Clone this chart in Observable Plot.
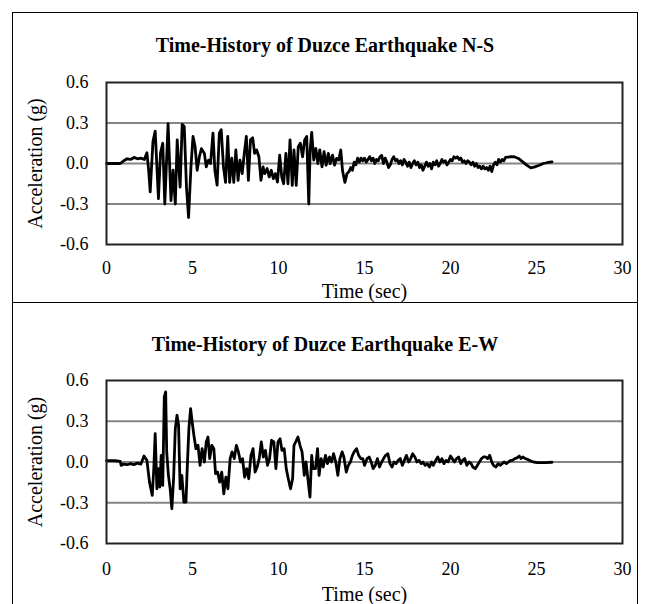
<!DOCTYPE html>
<html>
<head>
<meta charset="utf-8">
<script src="https://cdn.jsdelivr.net/npm/d3@7"></script>
<script src="https://cdn.jsdelivr.net/npm/@observablehq/plot@0.6"></script>
<style>
  body { margin: 0; background: #fff; width: 649px; height: 604px; overflow: hidden; position: relative; font-family: "Liberation Serif", "Times New Roman", serif; }
  .panel { position: absolute; left: 12px; width: 624px; border: 1px solid #000; background: #fff; }
  .title { position: absolute; left: 0; width: 100%; text-align: center; font-weight: bold; font-size: 20px; color: #000; }
  .chart { position: absolute; left: 0; top: 0; }
  g[aria-label="x-axis label"] text, g[aria-label="y-axis label"] text { font-size: 20px; }
</style>
</head>
<body>
<div class="panel" id="p1" style="top:12px;height:290px;">
  <div class="title" style="top:21px;">Time-History of Duzce Earthquake N-S</div>
  <div class="chart" id="c1"></div>
</div>
<div class="panel" id="p2" style="top:302px;height:310px;">
  <div class="title" style="top:30px;">Time-History of Duzce Earthquake E-W</div>
  <div class="chart" id="c2"></div>
</div>
<script>
const xTicks = [0, 5, 10, 15, 20, 25, 30];
const yTicks = [-0.6, -0.3, 0.0, 0.3, 0.6];
const gridLevels = [-0.3, 0.0, 0.3];

const nsTime = [0, 0.8, 1.0, 1.2, 1.4, 1.6, 1.8, 2.0, 2.2, 2.35, 2.45, 2.54, 2.7, 2.83, 3.02, 3.14, 3.27, 3.39, 3.58, 3.75, 3.87, 4.0, 4.11, 4.28, 4.4, 4.52, 4.65, 4.77, 4.91, 5.03, 5.15, 5.27, 5.4, 5.52, 5.69, 5.8, 5.93, 6.05, 6.19, 6.3, 6.43, 6.56, 6.67, 6.8, 6.92, 7.05, 7.16, 7.28, 7.4, 7.52, 7.65, 7.76, 7.89, 8.0, 8.13, 8.25, 8.37, 8.5, 8.61, 8.73, 8.86, 8.98, 9.1, 9.2, 9.34, 9.46, 9.58, 9.7, 9.82, 9.94, 10.07, 10.19, 10.3, 10.43, 10.55, 10.67, 10.8, 10.9, 11.03, 11.15, 11.27, 11.4, 11.52, 11.64, 11.76, 11.84, 11.93, 12.05, 12.17, 12.29, 12.4, 12.53, 12.65, 12.77, 12.9, 13.0, 13.14, 13.26, 13.38, 13.5, 13.62, 13.72, 13.86, 13.98,
  14.1, 14.2, 14.3, 14.4, 14.5, 14.6, 14.7, 14.8, 14.9, 15.0,
  15.1, 15.2, 15.3, 15.4, 15.5, 15.6, 15.7, 15.8, 15.9, 16.0,
  16.1, 16.2, 16.3, 16.4, 16.5, 16.6, 16.7, 16.8, 16.9, 17.0,
  17.1, 17.2, 17.3, 17.4, 17.5, 17.6, 17.7, 17.8, 17.9, 18.0,
  18.1, 18.2, 18.3, 18.4, 18.5, 18.6, 18.7, 18.8, 18.9, 19.0,
  19.1, 19.2, 19.3, 19.4, 19.5, 19.6, 19.7, 19.8, 19.9, 20.0,
  20.1, 20.2, 20.3, 20.4, 20.5, 20.6, 20.7, 20.8, 20.9, 21.0,
  21.1, 21.2, 21.3, 21.4, 21.5, 21.6, 21.7, 21.8, 21.9, 22.0,
  22.1, 22.2, 22.3, 22.4, 22.5, 22.6, 22.7, 22.8, 22.9, 23.0,
  23.1, 23.2,
  23.5, 23.7, 23.95, 24.2, 24.43, 24.67, 24.9, 25.16, 25.4, 25.65, 25.9];
const nsAccel = [0, 0, 0.02, 0.035, 0.03, 0.045, 0.035, 0.04, 0.03, 0.08, -0.05, -0.21, 0.16, 0.24, -0.26, 0.08, 0.15, -0.30, 0.295, -0.275, -0.05, -0.30, 0.175, -0.175, 0.29, 0.275, -0.175, -0.40, -0.025, 0.20, 0.125, -0.05, 0.05, 0.11, 0.075, -0.025, 0.025, 0, 0.225, -0.05, -0.16, 0.225, 0.25, -0.025, -0.14, 0.2, -0.14, 0.04, -0.14, 0.1, -0.125, 0.025, -0.075, 0.0625, 0.2, -0.125, 0.175, 0.19, 0.075, 0.1, 0.05, -0.125, -0.025, -0.075, -0.0375, -0.1, -0.05, -0.1125, -0.075, -0.1375, 0.0625, -0.1, -0.15, 0.075, -0.15, 0.175, -0.1625, 0.1, -0.1625, 0.125, 0.15, 0.05, 0.175, 0.2, -0.30, 0.1, 0.23, 0.025, 0.1125, 0, 0.1, -0.025, 0.0875, -0.0125, 0.075, 0, 0.0625, -0.0125, 0.0375, 0.025, 0.1, -0.05, -0.14, -0.075,
  -0.06, -0.03, -0.05, 0.01, -0.01, 0.04, 0.01, 0.04, 0.02, 0.04,
  0.01, 0.03, 0.05, 0.02, 0.04, 0.0, 0.03, 0.02, 0.05, 0.06,
  0.0, 0.04, 0.01, -0.03, -0.01, 0.03, 0.05, 0.02, 0.03, 0.0,
  0.02, -0.01, 0.03, 0.01, -0.02, 0.01, -0.03, 0.0, 0.02, -0.01,
  0.01, -0.03, -0.01, -0.05, -0.02, 0.01, -0.02, 0.0, -0.04, 0.01,
  -0.01, 0.02, -0.02, 0.0, 0.03, 0.01, 0.02, -0.01, 0.01, 0.03,
  0.02, 0.05, 0.04, 0.05, 0.03, 0.04, 0.01, 0.02, 0.0, 0.02,
  0.01, -0.01, 0.01, -0.02, 0.0, -0.03, -0.02, -0.04, -0.02, -0.04,
  -0.03, -0.05, -0.02, -0.06, -0.01, 0.01, -0.01, 0.03, 0.01, 0.03,
  0.02, 0.045,
  0.05, 0.05, 0.0375, 0.0125, -0.0125, -0.0325, -0.025, -0.0125, 0, 0.0075, 0.0125];

const ewTime = [0, 0.5, 0.8, 0.85, 1.0, 1.2, 1.4, 1.6, 1.8, 2.0, 2.18, 2.35, 2.5, 2.66, 2.75, 2.83, 2.93, 3.02, 3.1, 3.18, 3.27, 3.36, 3.44, 3.5, 3.6, 3.7, 3.8, 3.9, 4.0, 4.1, 4.19, 4.28, 4.38, 4.5, 4.62, 4.7, 4.79, 4.89, 4.98, 5.08, 5.2, 5.32, 5.44, 5.56, 5.69, 5.8, 5.9, 6.0, 6.12, 6.24, 6.34, 6.46, 6.58, 6.7, 6.82, 6.94, 7.06, 7.19, 7.3, 7.43, 7.55, 7.67, 7.79, 7.91, 8.03, 8.15, 8.27, 8.4, 8.52, 8.64, 8.76, 8.88, 9.0, 9.12, 9.24, 9.36, 9.48, 9.6, 9.73, 9.85, 9.97, 10.09, 10.2, 10.33, 10.45, 10.57, 10.7, 10.82, 10.9, 11.0, 11.13, 11.25, 11.37, 11.5, 11.6, 11.73, 11.83, 11.93, 12.0, 12.15, 12.27, 12.36, 12.48, 12.6, 12.73, 12.85, 12.97, 13.09, 13.2, 13.33, 13.45, 13.57, 13.7, 13.8, 13.94, 14.06, 14.18, 14.3, 14.4, 14.54, 14.66, 14.78, 14.9, 15.0, 15.15, 15.27, 15.39, 15.5, 15.63, 15.75, 15.87, 16.0, 16.11, 16.23, 16.36, 16.48, 16.6, 16.72, 16.84, 16.96, 17.08, 17.2, 17.32, 17.44, 17.57, 17.69, 17.8, 17.93, 18.05, 18.17, 18.3, 18.4, 18.53, 18.65, 18.78, 18.9, 19.0, 19.14, 19.26, 19.38, 19.5, 19.62, 19.74, 19.86, 20.0, 20.1, 20.23, 20.35, 20.47, 20.6, 20.7, 20.83, 20.95, 21.07, 21.2, 21.3, 21.44, 21.56, 21.68, 21.8, 21.92, 22.04, 22.16, 22.28, 22.4, 22.5, 22.64, 22.77, 22.9, 23.0, 23.13, 23.25, 23.37, 23.5, 23.6, 23.74, 23.86, 24.0, 24.1, 24.2, 24.35, 24.46, 24.6, 24.7, 24.83, 25.05, 25.5, 25.9];
const ewAccel = [0.01, 0.01, 0.005, -0.025, -0.015, -0.02, -0.012, -0.02, -0.008, -0.015, 0.044, 0.012, -0.148, -0.246, -0.049, 0.209, -0.197, -0.049, -0.184, 0.049, -0.172, 0.479, 0.516, 0.074, -0.098, -0.197, -0.344, -0.123, 0.246, 0.344, 0.27, -0.197, -0.098, -0.295, -0.295, -0.025, 0.246, 0.393, 0.295, 0.197, 0.098, 0.123, -0.025, 0.098, 0, 0.148, 0.184, 0.025, 0.123, 0.098, -0.086, -0.074, -0.148, -0.074, -0.234, -0.111, -0.197, 0.025, 0.074, 0.025, 0.123, 0.074, 0, 0.025, -0.111, -0.049, -0.123, 0.049, 0.098, -0.074, -0.037, 0.025, 0.148, 0.037, 0.086, -0.025, 0.025, 0.16, 0.148, -0.049, 0.148, 0.172, 0.086, 0.098, -0.049, -0.123, -0.197, -0.123, 0.123, 0.148, 0.184, 0.123, 0.074, -0.098, 0, -0.148, -0.258, 0.049, -0.049, -0.049, 0.098, -0.098, 0.025, -0.037, 0.049, -0.012, 0.037, 0, 0.061, 0, -0.098, 0.025, 0.074, 0.037, -0.074, -0.025, 0, 0.049, 0.074, 0.098, 0.049, 0.025, 0.025, -0.025, 0.025, 0.037, 0, -0.049, -0.025, 0.025, -0.037, 0, 0.025, 0.049, 0.061, -0.012, -0.037, 0, -0.012, 0.012, 0.025, -0.025, 0.012, 0.049, 0, 0.025, 0.061, 0.037, 0, 0.012, -0.012, 0, -0.025, -0.012, -0.037, 0, -0.025, 0.012, 0.037, 0, 0.025, -0.012, 0.012, 0, 0.044, 0.025, 0, 0.025, 0.037, -0.012, 0.012, 0.025, -0.025, 0, -0.012, -0.037, -0.049, -0.025, 0, 0.025, 0.037, 0.037, 0.025, 0.049, 0, -0.025, -0.037, -0.012, -0.025, -0.012, 0, -0.012, 0, 0.012, 0.012, 0.025, 0.03, 0.044, 0.025, 0.037, 0.025, 0.02, 0.012, 0.005, 0, -0.005, -0.005, -0.002];

if (nsTime.length !== nsAccel.length) console.error("NS length mismatch", nsTime.length, nsAccel.length);
if (ewTime.length !== ewAccel.length) console.error("EW length mismatch", ewTime.length, ewAccel.length);

function makeChart(times, accels, opts) {
  const data = times.map((t, i) => ({t, a: accels[i]}));
  return Plot.plot({
    width: 624,
    height: opts.height,
    marginLeft: 93,
    marginRight: 15,
    marginTop: opts.marginTop,
    marginBottom: opts.marginBottom,
    style: {fontFamily: "'Liberation Serif', 'Times New Roman', serif", fontSize: "18px", color: "#000", background: "transparent"},
    x: {domain: [0, 30], ticks: xTicks, tickSize: 0, tickPadding: opts.xPad, label: "Time (sec)", labelAnchor: "center", labelOffset: opts.xLabelOffset, labelArrow: "none"},
    y: {domain: [-0.6, 0.6], ticks: yTicks, tickSize: 0, tickPadding: 18, tickFormat: d => d.toFixed(1), label: "Acceleration (g)", labelAnchor: "center", labelOffset: 79, labelArrow: "none"},
    marks: [
      Plot.ruleY(gridLevels, {stroke: "#858585", strokeWidth: 2}),
      Plot.line(data, {x: "t", y: "a", stroke: "#000", strokeWidth: 2.8, strokeLinejoin: "round"}),
      Plot.frame({stroke: "#222", strokeWidth: 2})
    ]
  });
}

document.getElementById("c1").appendChild(makeChart(nsTime, nsAccel, {height: 290, marginTop: 69, marginBottom: 59, xPad: 17, xLabelOffset: 53}));
document.getElementById("c2").appendChild(makeChart(ewTime, ewAccel, {height: 302, marginTop: 77, marginBottom: 62, xPad: 19, xLabelOffset: 57}));
</script>
</body>
</html>
